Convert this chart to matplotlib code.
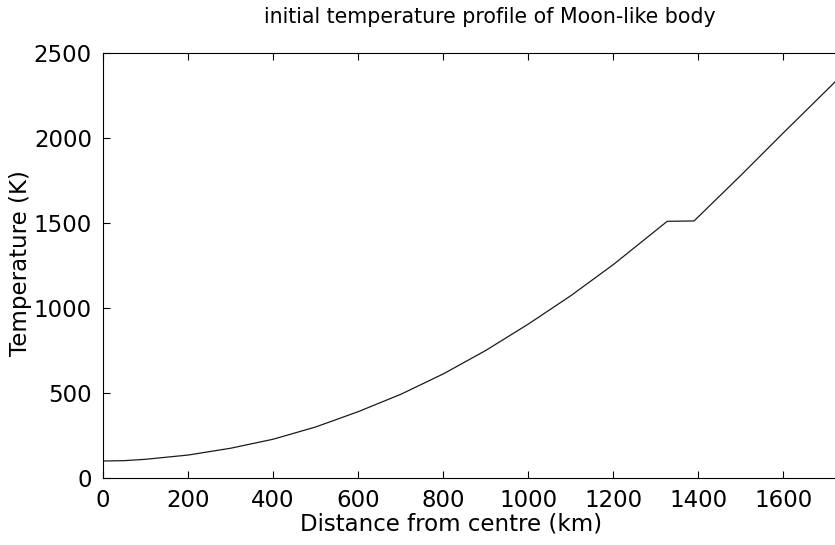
import matplotlib
matplotlib.use("Agg")
import matplotlib.pyplot as plt
import numpy as np

plt.rcParams['font.family'] = ['DejaVu Sans']

# radius from centre (km) and temperature (K) along the profile
radius_km = [0, 50, 100, 200, 300, 400, 500, 600, 700, 800, 900, 1000,
             1100, 1200, 1327, 1390, 1500, 1600, 1738]
temp_k = [100, 102, 110, 135, 175, 228, 300, 390, 492, 612, 750, 905,
          1072, 1255, 1510, 1512, 1780, 2030, 2370]

x_ticks = [0, 200, 400, 600, 800, 1000, 1200, 1400, 1600]
y_ticks = [0, 500, 1000, 1500, 2000, 2500]

fig = plt.figure(figsize=(8.35, 5.45), dpi=100)
ax = fig.add_axes([103 / 835, 67 / 545, 739 / 835, 425 / 545])

ax.plot(radius_km, temp_k, color='#1a1a1a', lw=0.9)

ax.set_xlim(0, 1738)
ax.set_ylim(0, 2500)
ax.set_xticks(x_ticks)
ax.set_yticks(y_ticks)
ax.tick_params(direction='in', length=5, width=0.8, top=True, right=True,
               labelsize=16.5, pad=8)
for s in ax.spines.values():
    s.set_linewidth(0.8)

# axis labels and title placed in figure pixels
fig.text(451 / 835, 1 - 524 / 545, 'Distance from centre (km)',
         ha='center', va='center', fontsize=16.5)
fig.text(21 / 835, 1 - 263 / 545, 'Temperature (K)', rotation=90,
         ha='center', va='center', fontsize=16.5)
fig.text(490 / 835, 1 - 17 / 545, 'initial temperature profile of Moon-like body',
         ha='center', va='center', fontsize=14.8)

fig.savefig('out.png', dpi=100)
